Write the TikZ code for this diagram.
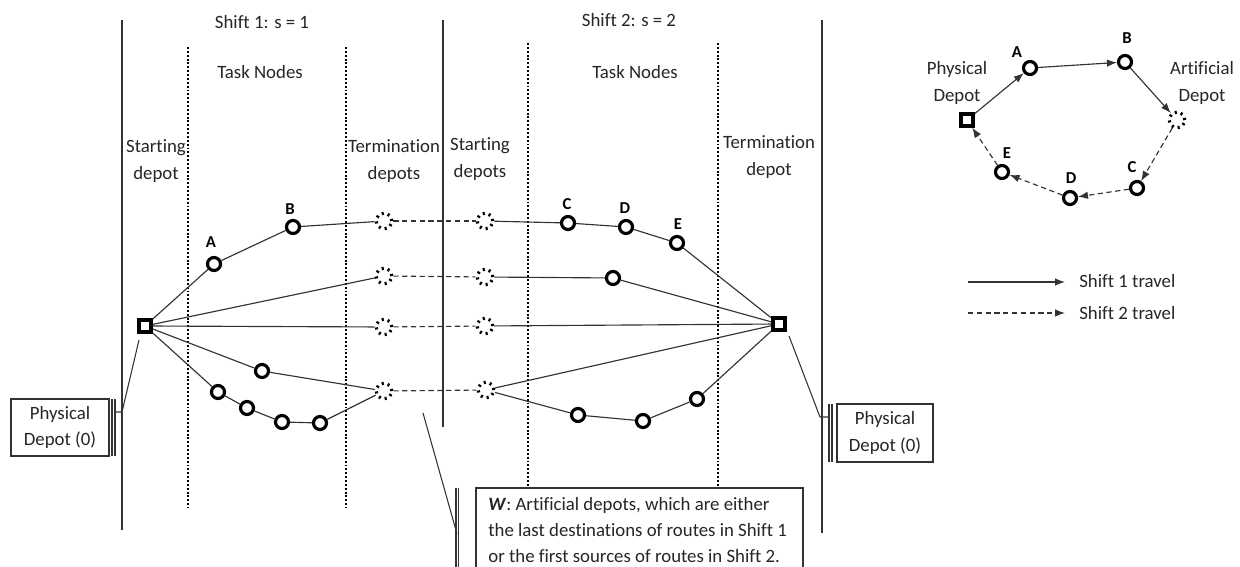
\documentclass[tikz,border=0pt]{standalone}
\usepackage{fontspec}
\setmainfont{Carlito}[Ligatures=NoCommon]
\usetikzlibrary{arrows.meta}
\definecolor{txtgray}{HTML}{262626}
\definecolor{linegray}{HTML}{333333}
\begin{document}
\begin{tikzpicture}[x=0.2mm,y=-0.2mm,
  txt/.style={font=\fontsize{10.7}{15}\selectfont, text=txtgray, align=center, inner sep=0pt},
  lbl/.style={font=\fontsize{9.5}{11}\selectfont\bfseries, text=black, inner sep=0pt},
  task/.style={circle, draw=black, line width=1.8pt, minimum size=2.6mm, inner sep=0pt},
  depot/.style={rectangle, draw=black, line width=2pt, minimum size=2.4mm, inner sep=0pt},
  art/.style={circle, draw=black, line width=1.8pt, dash pattern=on 1.2pt off 2.3pt, minimum size=3.1mm, inner sep=0pt},
  edge/.style={draw=linegray, line width=0.65pt},
  shiftdash/.style={draw=linegray, line width=0.65pt, dash pattern=on 3pt off 2pt},
  divider/.style={draw=linegray, line width=0.8pt},
  dotline/.style={draw=black, line width=1.2pt, dash pattern=on 1.1pt off 1.1pt},
  callbox/.style={draw=linegray, line width=0.6pt, inner sep=0pt},
  callline/.style={draw=linegray, line width=0.6pt},
  arr/.style={edge, -{Latex[length=2mm,width=1.5mm]}},
  darr/.style={shiftdash, -{Latex[length=2mm,width=1.5mm]}}
]
\clip (0,0) rectangle (1240,567);
\fill[white] (0,0) rectangle (1240,567);

% ---- dividers ----
\draw[divider] (122,20) -- (122,530);
\draw[divider] (443,20) -- (443,427);
\draw[divider] (822,20) -- (822,533);
\draw[dotline] (188,47) -- (188,508);
\draw[dotline] (346,47) -- (346,508);
\draw[dotline] (528,43) -- (528,488);
\draw[dotline] (718,43) -- (718,486);

% ---- headers ----
\node[txt] (h1) at (262,22) {Shift 1: s = 1};
\node[txt] (h2) at (629,20) {Shift 2: s = 2};
\node[txt] (tn1) at (260,72) {Task Nodes};
\node[txt] (tn2) at (635,72) {Task Nodes};
\node[txt] (sd1) at (156,161) {Starting\\depot};
\node[txt] (td1) at (394,161) {Termination\\depots};
\node[txt] (sd2) at (480,159) {Starting\\depots};
\node[txt] (td2) at (769,157) {Termination\\depot};

% ---- nodes ----
\node[depot] (P1) at (145,326) {};
\node[depot] (P2) at (779,324) {};
\node[task] (A) at (214,264) {};
\node[task] (B) at (293,227) {};
\node[art] (L1) at (384,221) {};
\node[art] (L2) at (384,276) {};
\node[art] (L3) at (384,327) {};
\node[art] (L4) at (384,391) {};
\node[art] (R1) at (485,221) {};
\node[art] (R2) at (485,277) {};
\node[art] (R3) at (485,326) {};
\node[art] (R4) at (486,390) {};
\node[task] (C) at (568,223) {};
\node[task] (D) at (626,227) {};
\node[task] (E) at (677,243) {};
\node[task] (F) at (613,278) {};
\node[task] (G) at (262,371) {};
\node[task] (H1) at (218,392) {};
\node[task] (H2) at (247,408) {};
\node[task] (H3) at (282,422) {};
\node[task] (H4) at (320,423) {};
\node[task] (K1) at (578,415) {};
\node[task] (K2) at (643,421) {};
\node[task] (K3) at (697,399) {};

\node[lbl] (lA) at (211,242) {A};
\node[lbl] (lB) at (290,209) {B};
\node[lbl] (lC) at (567,204) {C};
\node[lbl] (lD) at (625,208) {D};
\node[lbl] (lE) at (678,224) {E};

% ---- edges ----
\draw[edge] (P1) -- (A) -- (B) -- (L1);
\draw[edge] (R1) -- (C) -- (D) -- (E) -- (P2);
\draw[edge] (P1) -- (L2);
\draw[edge] (R2) -- (F) -- (P2);
\draw[edge] (P1) -- (L3);
\draw[edge] (R3) -- (P2);
\draw[edge] (P1) -- (G) -- (L4);
\draw[edge] (P1) -- (H1) -- (H2) -- (H3) -- (H4) -- (L4);
\draw[edge] (R4) -- (P2);
\draw[edge] (R4) -- (K1) -- (K2) -- (K3) -- (P2);
\draw[shiftdash] (L1) -- (R1);
\draw[shiftdash] (L2) -- (R2);
\draw[shiftdash] (L3) -- (R3);
\draw[shiftdash] (L4) -- (R4);

% ---- callouts ----
\node[callbox, txt, minimum width=19.6mm, minimum height=11.4mm] (PD1) at (60,427.5) {Physical\\Depot (0)};
\draw[callline] (112,399) -- (112,456);
\draw[callline] (115,399) -- (115,456);
\coordinate (c1a) at (115,412);
\coordinate (c1b) at (122,412);
\coordinate (c1c) at (139,340);
\draw[callline] (c1a) -- (c1b) -- (c1c);

\node[callbox, txt, minimum width=19.2mm, minimum height=11.6mm] (PD2) at (885,433) {Physical\\Depot (0)};
\draw[callline] (829,404) -- (829,462);
\draw[callline] (832,404) -- (832,462);
\coordinate (c2a) at (829,417);
\coordinate (c2b) at (820,417);
\coordinate (c2c) at (789,336);
\draw[callline] (c2a) -- (c2b) -- (c2c);

\draw[callbox] (476,488) rectangle (803,580);
\node[txt, align=left, anchor=north west, font=\fontsize{10.7}{14.8}\selectfont] (Wtxt) at (488,497)
  {\textbf{\textit{W}}: Artificial depots, which are either\\the last destinations of routes in Shift 1\\or the first sources of routes in Shift 2.};
\draw[callline] (456,488) -- (456,567);
\draw[callline] (458.5,488) -- (458.5,567);
\coordinate (c3a) at (457,534);
\coordinate (c3b) at (423,413);
\draw[callline] (c3a) -- (c3b);

% ---- inset ----
\node[depot] (iP) at (967,120) {};
\node[task] (iA) at (1030,68) {};
\node[task] (iB) at (1125,62) {};
\node[art] (iW) at (1177,120) {};
\node[task] (iC) at (1137,188) {};
\node[task] (iD) at (1070,198) {};
\node[task] (iE) at (1002,172) {};
\node[lbl] (ilA) at (1017,52) {A};
\node[lbl] (ilB) at (1127,38) {B};
\node[lbl] (ilC) at (1132,167) {C};
\node[lbl] (ilD) at (1071,178) {D};
\node[lbl] (ilE) at (1007,153) {E};
\node[txt] (iPt) at (957,83) {Physical\\Depot};
\node[txt] (iWt) at (1202,83) {Artificial\\Depot};

\draw[arr] (iP) -- (iA);
\draw[arr] (iA) -- (iB);
\draw[arr] (iB) -- (iW);
\draw[darr] (iW) -- (iC);
\draw[darr] (iC) -- (iD);
\draw[darr] (iD) -- (iE);
\draw[darr] (iE) -- (iP);

% ---- legend ----
\coordinate (lg1a) at (968,282);
\coordinate (lg1b) at (1065,282);
\coordinate (lg2a) at (968,313);
\coordinate (lg2b) at (1065,313);
\draw[arr] (lg1a) -- (lg1b);
\draw[darr] (lg2a) -- (lg2b);
\node[txt, anchor=west] (lg1t) at (1079,281) {Shift 1 travel};
\node[txt, anchor=west] (lg2t) at (1079,313) {Shift 2 travel};
\end{tikzpicture}
\end{document}
